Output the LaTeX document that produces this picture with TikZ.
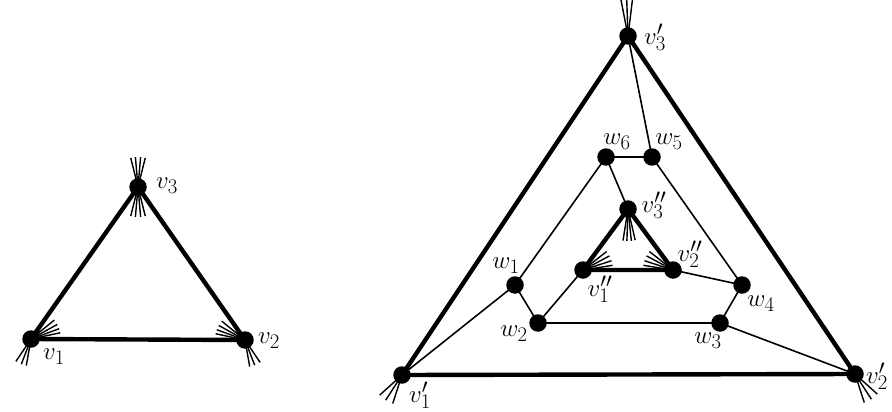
\documentclass[tikz,border=0pt]{standalone}
\tikzset{
  vtx/.style={circle,fill=black,inner sep=0pt,minimum size=17.5pt},
  thickedge/.style={line width=4.4pt},
  thinedge/.style={line width=1.6pt},
  stub/.style={line width=1.4pt},
  lab/.style={inner sep=0pt,font=\fontsize{24.88}{30}\selectfont}
}
\begin{document}
\begin{tikzpicture}[x=1pt,y=-1pt]
\useasboundingbox (0,0) rectangle (892,412);
% coordinates of vertices
\coordinate (v1) at (31,339);
\coordinate (v2) at (245,340);
\coordinate (v3) at (138,187);
\coordinate (p1) at (402,375);
\coordinate (p2) at (855,374);
\coordinate (p3) at (628,36);
\coordinate (w1) at (515,285);
\coordinate (w2) at (538,323);
\coordinate (w3) at (720,323);
\coordinate (w4) at (742,285);
\coordinate (w5) at (652,157);
\coordinate (w6) at (606,157);
\coordinate (q1) at (583,270);
\coordinate (q2) at (673,270);
\coordinate (q3) at (628,209);
% stubs
\foreach \a in {76,85,95,104} \draw[stub] (v3) ++(\a:30pt) -- ++(\a+180:60pt);
\foreach \a in {12,20,29,39} \draw[stub] (v1) -- ++(\a:30pt);
\foreach \a in {236,249,260} \draw[stub] (v1) -- ++(\a:27pt);
\foreach \a in {168,160,151,141} \draw[stub] (v2) -- ++(\a:30pt);
\foreach \a in {304,291,280} \draw[stub] (v2) -- ++(\a:27pt);
\foreach \a in {101,92,83} \draw[stub] (p3) -- ++(\a:40pt);
\foreach \a in {222,237,252} \draw[stub] (p1) -- ++(\a:30pt);
\foreach \a in {318,303,288} \draw[stub] (p2) -- ++(\a:30pt);
\foreach \a in {261,268,276,283} \draw[stub] (q3) -- ++(\a:32pt);
\foreach \a in {9,18,28,38} \draw[stub] (q1) -- ++(\a:30pt);
\foreach \a in {171,162,152,142} \draw[stub] (q2) -- ++(\a:30pt);
% thick triangles
\draw[thickedge] (v1) -- (v2) -- (v3) -- cycle;
\draw[thickedge] (p1) -- (p2) -- (p3) -- cycle;
\draw[thickedge] (q1) -- (q2) -- (q3) -- cycle;
% thin edges
\draw[thinedge] (p3) -- (w5) -- (w6) -- (q3);
\draw[thinedge] (w6) -- (w1) -- (w2) -- (w3) -- (w4) -- (w5);
\draw[thinedge] (w1) -- (p1);
\draw[thinedge] (w2) -- (q1);
\draw[thinedge] (w3) -- (p2);
\draw[thinedge] (w4) -- (q2);
% vertex discs
\foreach \n in {v1,v2,v3,p1,p2,p3,w1,w2,w3,w4,w5,w6,q1,q2,q3}
  \node[vtx] (n\n) at (\n) {};
% labels
\node[lab] (lv1) at (54,357) {$v_1$};
\node[lab] (lv2) at (269,341) {$v_2$};
\node[lab] (lv3) at (167,186) {$v_3$};
\node[lab] (lp1) at (420,395) {$v_1'$};
\node[lab] (lp2) at (877,376) {$v_2'$};
\node[lab] (lp3) at (655,37) {$v_3'$};
\node[lab] (lq1) at (600,289) {$v_1''$};
\node[lab] (lq2) at (690,254) {$v_2''$};
\node[lab] (lq3) at (654,205) {$v_3''$};
\node[lab] (lw1) at (506,266) {$w_1$};
\node[lab] (lw2) at (514,334) {$w_2$};
\node[lab] (lw3) at (708,341) {$w_3$};
\node[lab] (lw4) at (761,304) {$w_4$};
\node[lab] (lw5) at (669,142) {$w_5$};
\node[lab] (lw6) at (617,142) {$w_6$};
\end{tikzpicture}
\end{document}
